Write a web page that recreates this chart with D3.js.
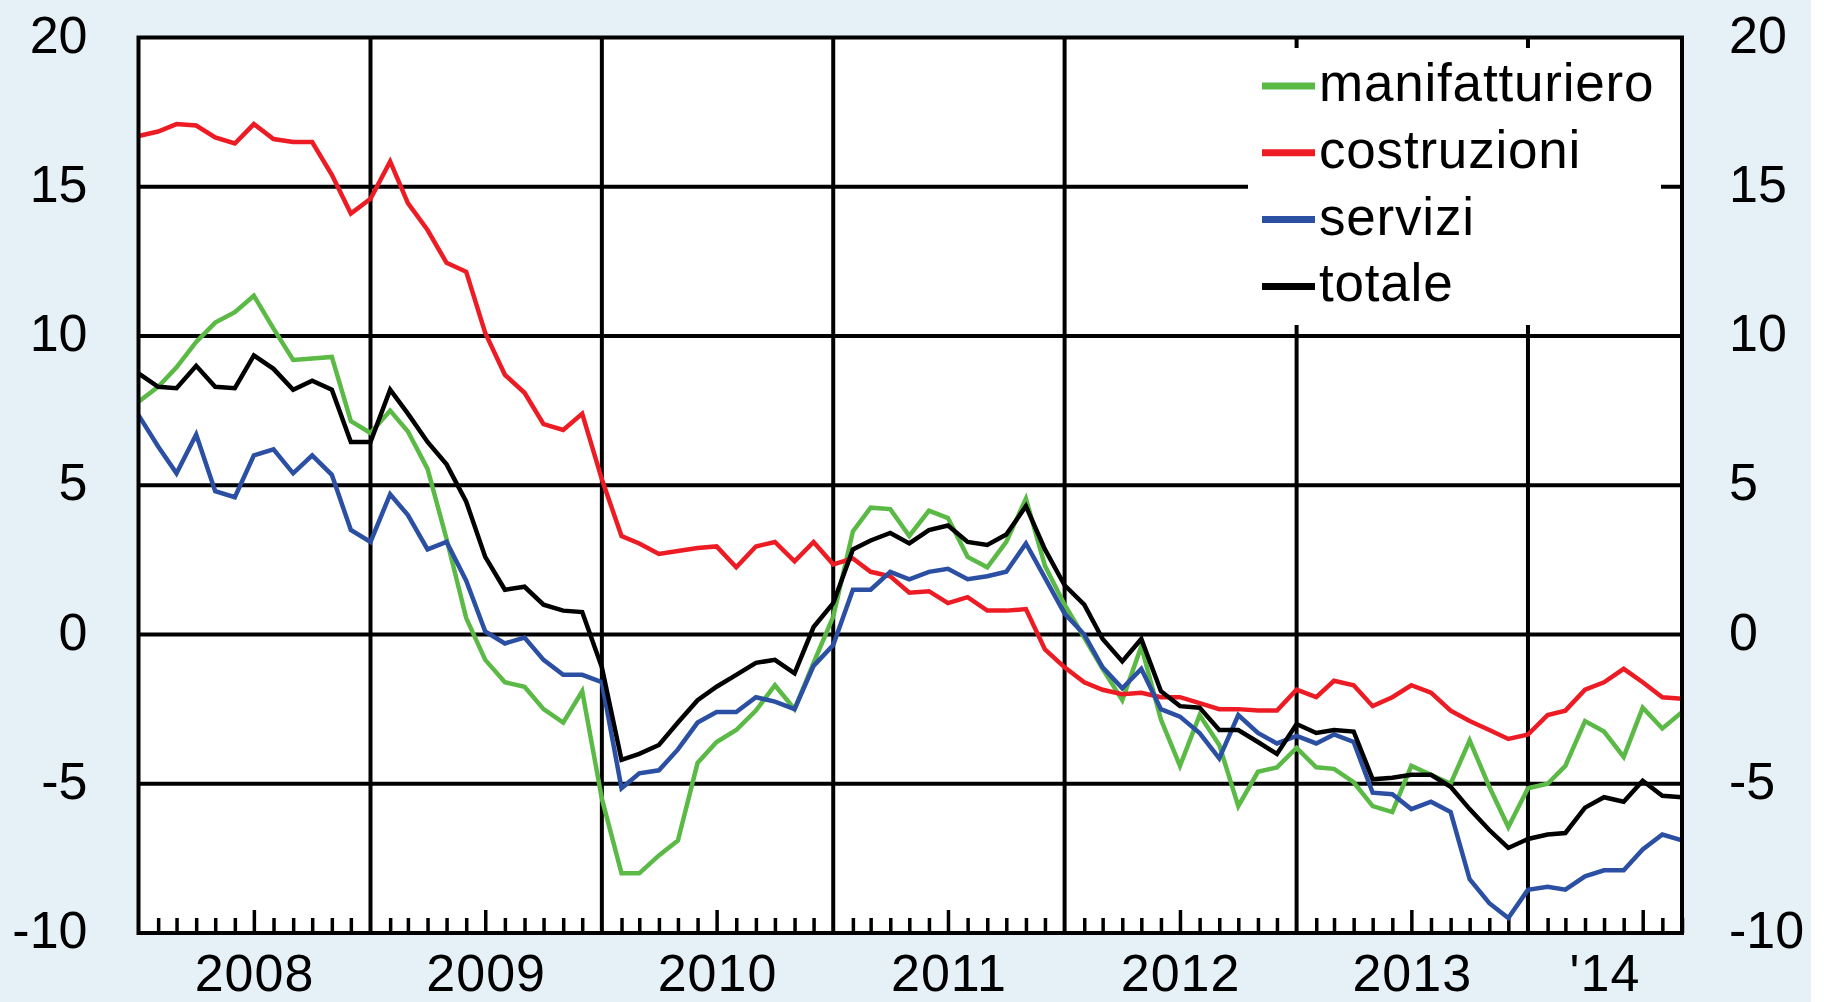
<!DOCTYPE html>
<html>
<head>
<meta charset="utf-8">
<script src="https://cdn.jsdelivr.net/npm/d3@7"></script>
<style>
  html, body { margin: 0; padding: 0; background: #fff; }
  svg { display: block; }
  text { font-family: "Liberation Sans", Arial, sans-serif; fill: #000; }
</style>
</head>
<body>
<div id="chart"></div>
<script>
// monthly values, Jan 2008 - Sep 2014
var manifatturiero = [
    7.8, 8.3, 8.95, 9.8, 10.45, 10.8, 11.35, 10.25, 9.2, 9.25, 9.3, 7.15,
    6.75, 7.5, 6.8, 5.55, 3.2, 0.55, -0.85, -1.6, -1.75, -2.5, -2.95, -1.9,
    -5.5, -8.0, -8.0, -7.4, -6.9, -4.3, -3.6, -3.2, -2.55, -1.7, -2.5, -0.95,
    0.6, 3.45, 4.25, 4.2, 3.3, 4.15, 3.9, 2.6, 2.25, 3.1, 4.55, 2.3,
    1.0, -0.1, -1.15, -2.2, -0.4, -2.85, -4.4, -2.7, -3.7, -5.75, -4.6, -4.45,
    -3.8, -4.45, -4.5, -4.95, -5.75, -5.95, -4.4, -4.7, -5.0, -3.55, -5.1, -6.45,
    -5.15, -5.0, -4.4, -2.9, -3.25, -4.1, -2.45, -3.15, -2.6
];
var costruzioni = [
    16.7, 16.85, 17.1, 17.05, 16.65, 16.45, 17.1, 16.6, 16.5, 16.5, 15.4, 14.1,
    14.6, 15.85, 14.45, 13.55, 12.45, 12.15, 10.1, 8.7, 8.1, 7.05, 6.85, 7.4,
    5.2, 3.3, 3.05, 2.7, 2.8, 2.9, 2.95, 2.25, 2.95, 3.1, 2.45, 3.1,
    2.35, 2.55, 2.1, 1.95, 1.4, 1.45, 1.05, 1.25, 0.8, 0.8, 0.85, -0.5,
    -1.1, -1.6, -1.85, -2.0, -1.95, -2.1, -2.1, -2.3, -2.5, -2.5, -2.55, -2.55,
    -1.85, -2.1, -1.55, -1.7, -2.4, -2.1, -1.7, -1.95, -2.55, -2.9, -3.2, -3.5,
    -3.35, -2.7, -2.55, -1.85, -1.6, -1.15, -1.6, -2.1, -2.15
];
var servizi = [
    7.35, 6.3, 5.4, 6.7, 4.8, 4.6, 6.0, 6.2, 5.4, 6.0, 5.35, 3.5,
    3.1, 4.7, 4.0, 2.85, 3.1, 1.8, 0.1, -0.3, -0.1, -0.85, -1.35, -1.35,
    -1.6, -5.15, -4.65, -4.55, -3.85, -2.95, -2.6, -2.6, -2.1, -2.25, -2.5, -1.05,
    -0.35, 1.5, 1.5, 2.1, 1.85, 2.1, 2.2, 1.85, 1.95, 2.1, 3.05, 1.9,
    0.7, 0.0, -1.1, -1.8, -1.15, -2.5, -2.75, -3.3, -4.15, -2.7, -3.3, -3.65,
    -3.4, -3.65, -3.35, -3.6, -5.3, -5.35, -5.85, -5.6, -5.95, -8.2, -9.0, -9.5,
    -8.55, -8.45, -8.55, -8.1, -7.9, -7.9, -7.2, -6.7, -6.9
];
var totale = [
    8.75, 8.3, 8.25, 9.0, 8.3, 8.25, 9.35, 8.9, 8.2, 8.5, 8.2, 6.45,
    6.45, 8.2, 7.4, 6.45, 5.7, 4.45, 2.6, 1.5, 1.6, 1.0, 0.8, 0.75,
    -1.1, -4.2, -4.0, -3.7, -2.95, -2.2, -1.75, -1.35, -0.95, -0.85, -1.3, 0.25,
    1.05, 2.85, 3.15, 3.4, 3.05, 3.5, 3.65, 3.1, 3.0, 3.35, 4.3, 2.85,
    1.65, 1.0, -0.15, -0.9, -0.15, -1.9, -2.4, -2.45, -3.2, -3.2, -3.6, -4.0,
    -3.0, -3.3, -3.2, -3.25, -4.85, -4.8, -4.7, -4.7, -5.1, -5.85, -6.55, -7.15,
    -6.85, -6.7, -6.65, -5.8, -5.45, -5.6, -4.9, -5.4, -5.45
];

var seriesNames = ["manifatturiero", "costruzioni", "servizi", "totale"];
var seriesColors = ["#5bb946", "#ed1c24", "#2b4fa2", "#000000"];
var yearLabels = ["2008", "2009", "2010", "2011", "2012", "2013", "'14"];
var yTicks = [-10, -5, 0, 5, 10, 15, 20];

var months = d3.timeMonth.range(new Date(2008, 0, 1), new Date(2014, 9, 1));

function createChart() {
    var width = 1824, height = 1002;
    var left = 138.5, right = 1682, top = 37.5, bottom = 933;

    var svg = d3.select("#chart").append("svg")
        .attr("width", width)
        .attr("height", height);

    // background
    svg.append("rect").attr("width", 1811).attr("height", height).attr("fill", "#e6f1f7");

    var x = d3.scaleTime()
        .domain([months[0], months[months.length - 1]])
        .range([left, right]);
    var y = d3.scaleLinear()
        .domain([-10, 20])
        .range([bottom, top]);

    // plot area
    svg.append("rect")
        .attr("x", left).attr("y", top)
        .attr("width", right - left).attr("height", bottom - top)
        .attr("fill", "#fff");

    // horizontal grid
    svg.selectAll(".hgrid")
        .data(yTicks.slice(1, -1))
        .enter().append("line")
        .attr("x1", left).attr("x2", right)
        .attr("y1", d => y(d)).attr("y2", d => y(d))
        .attr("stroke", "#000").attr("stroke-width", 4);

    // year lines
    var yearStarts = d3.timeYear.range(new Date(2009, 0, 1), months[months.length - 1]);
    svg.selectAll(".vgrid")
        .data(yearStarts)
        .enter().append("line")
        .attr("x1", d => x(d)).attr("x2", d => x(d))
        .attr("y1", top).attr("y2", bottom)
        .attr("stroke", "#000").attr("stroke-width", 4);

    // month ticks
    var xAxis = svg.append("g")
        .attr("transform", "translate(0," + bottom + ")")
        .call(d3.axisBottom(x)
            .tickValues(months.filter(d => d.getMonth() !== 0))
            .tickSize(-15)
            .tickFormat(""));
    xAxis.select(".domain").remove();
    xAxis.selectAll(".tick line")
        .attr("stroke", "#000").attr("stroke-width", 3.5)
        .attr("y2", d => d.getMonth() === 6 ? -23 : -15);

    // year labels
    var yearsAll = d3.timeYear.range(new Date(2008, 0, 1), months[months.length - 1]);
    svg.selectAll(".year")
        .data(yearsAll)
        .enter().append("text")
        .attr("x", d => {
            var end = d3.min([d3.timeYear.offset(d, 1), months[months.length - 1]]);
            return (x(d) + x(end)) / 2;
        })
        .attr("y", 991)
        .attr("text-anchor", "middle")
        .attr("font-size", 52)
        .attr("letter-spacing", 1)
        .text((d, i) => yearLabels[i]);

    // y axes
    var yLeft = svg.append("g")
        .attr("transform", "translate(" + left + ",0)")
        .call(d3.axisLeft(y).tickValues(yTicks).tickSize(0).tickPadding(51)
            .tickFormat(d => String(d)));
    var yRight = svg.append("g")
        .attr("transform", "translate(" + right + ",0)")
        .call(d3.axisRight(y).tickValues(yTicks).tickSize(0).tickPadding(47)
            .tickFormat(d => String(d)));
    [yLeft, yRight].forEach(function(g) {
        g.select(".domain").remove();
        g.selectAll("text")
            .attr("font-size", 52)
            .attr("font-family", "'Liberation Sans', Arial, sans-serif")
            .attr("fill", "#000")
            .attr("dy", "0.28em");
    });

    // legend box
    svg.append("rect")
        .attr("x", 1248).attr("y", 48)
        .attr("width", 413).attr("height", 277)
        .attr("fill", "#fff");

    var legend = svg.selectAll(".legend")
        .data(seriesNames)
        .enter().append("g")
        .attr("transform", (d, i) => "translate(1262," + (86 + i * 66.8) + ")");
    legend.append("line")
        .attr("x1", 0).attr("x2", 53)
        .attr("stroke", (d, i) => seriesColors[i])
        .attr("stroke-width", 7);
    legend.append("text")
        .attr("x", 57).attr("y", 15)
        .attr("font-size", 53)
        .attr("letter-spacing", 0.8)
        .text(d => d);

    // series lines
    var line = d3.line()
        .x((d, i) => x(months[i]))
        .y(d => y(d));
    var allSeries = [manifatturiero, costruzioni, servizi, totale];
    svg.selectAll(".series")
        .data(allSeries)
        .enter().append("path")
        .attr("d", d => line(d))
        .attr("fill", "none")
        .attr("stroke", (d, i) => seriesColors[i])
        .attr("stroke-width", 4.5)
        .attr("stroke-linejoin", "miter");

    // frame
    svg.append("rect")
        .attr("x", left).attr("y", top)
        .attr("width", right - left).attr("height", bottom - top)
        .attr("fill", "none")
        .attr("stroke", "#000").attr("stroke-width", 4);

    // right edge strip of the original image
    svg.append("rect").attr("x", 1811).attr("width", 13).attr("height", height).attr("fill", "#fff");
}

createChart();
</script>
</body>
</html>
